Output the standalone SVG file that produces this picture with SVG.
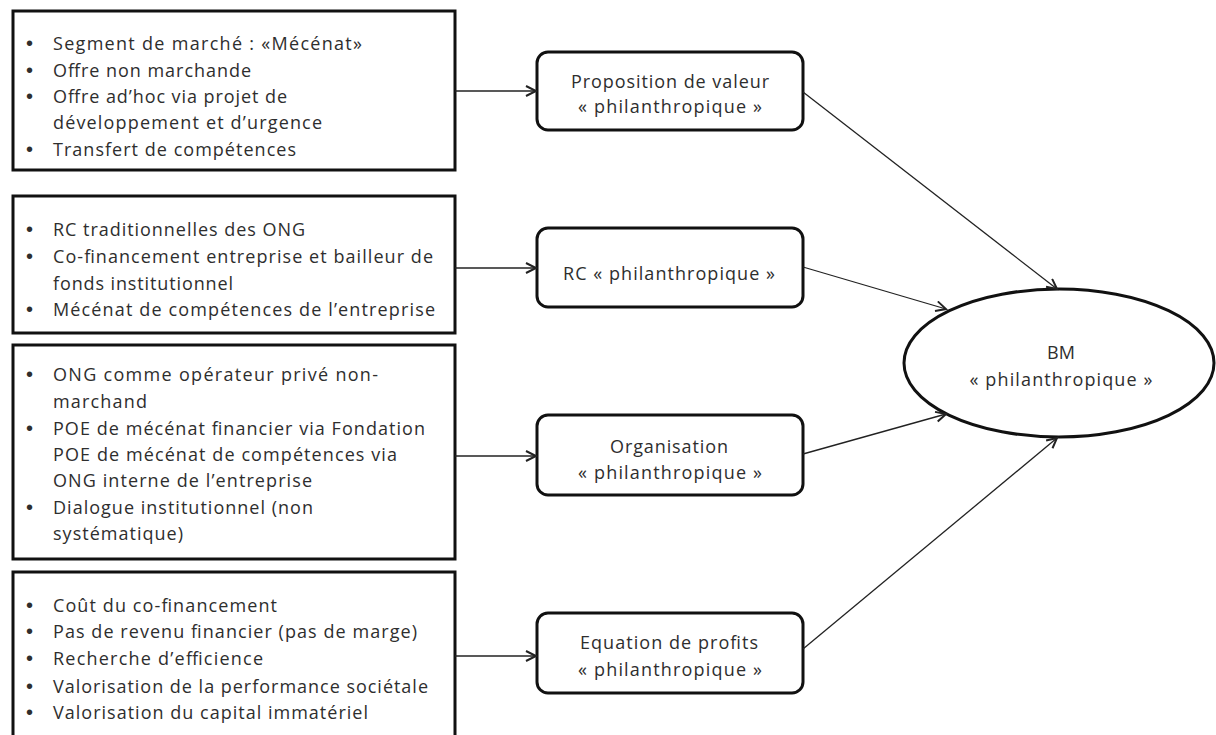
<svg xmlns="http://www.w3.org/2000/svg" width="1216" height="735" viewBox="0 0 1216 735">
<style>
  .box { fill: #ffffff; stroke: #111111; stroke-width: 3; }
  .t { font-family: "Open Sans", "Liberation Sans", sans-serif; font-size: 18px; fill: #2e2e2e; }
  .b { font-family: "Liberation Sans", sans-serif; font-size: 20px; fill: #2e2e2e; }
  .c { text-anchor: middle; }
  .edge { fill: none; stroke: #222222; stroke-width: 1.6; }
  .diag { fill: none; stroke: #222222; stroke-width: 1.3; }
</style>
<defs>
  <marker id="arr" markerUnits="userSpaceOnUse" markerWidth="14" markerHeight="14" refX="11" refY="6" orient="auto">
    <path d="M1,1 L11,6 L1,11" fill="none" stroke="#222222" stroke-width="2"/>
  </marker>
</defs>
<rect width="1216" height="735" fill="#ffffff"/>

<g id="box-valeur">
  <rect class="box" x="13" y="11" width="442" height="159"/>
  <g transform="translate(0,3)">
  <text class="b" x="26" y="47">•</text>
  <text class="t" x="53" y="47" textLength="309">Segment de marché : «Mécénat»</text>
  <text class="b" x="26" y="73.5">•</text>
  <text class="t" x="53" y="73.5" textLength="198">Offre non marchande</text>
  <text class="b" x="26" y="100">•</text>
  <text class="t" x="53" y="100" textLength="234">Offre ad’hoc via projet de</text>
  <text class="t" x="53" y="126" textLength="269">développement et d’urgence</text>
  <text class="b" x="26" y="152.5">•</text>
  <text class="t" x="53" y="152.5" textLength="243">Transfert de compétences</text>
  </g>
</g>

<g id="box-rc">
  <rect class="box" x="13" y="196" width="442" height="137"/>
  <g transform="translate(0,3)">
  <text class="b" x="26" y="233">•</text>
  <text class="t" x="53" y="233" textLength="252">RC traditionnelles des ONG</text>
  <text class="b" x="26" y="260">•</text>
  <text class="t" x="53" y="260" textLength="380">Co-financement entreprise et bailleur de</text>
  <text class="t" x="53" y="286.5" textLength="180">fonds institutionnel</text>
  <text class="b" x="26" y="313">•</text>
  <text class="t" x="53" y="313" textLength="382">Mécénat de compétences de l’entreprise</text>
  </g>
</g>

<g id="box-organisation">
  <rect class="box" x="13" y="345" width="442" height="214"/>
  <g transform="translate(0,3)">
  <text class="b" x="26" y="378">•</text>
  <text class="t" x="53" y="378" textLength="325">ONG comme opérateur privé non-</text>
  <text class="t" x="53" y="405" textLength="94">marchand</text>
  <text class="b" x="26" y="432">•</text>
  <text class="t" x="53" y="432" textLength="372">POE de mécénat financier via Fondation</text>
  <text class="t" x="53" y="458" textLength="344">POE de mécénat de compétences via</text>
  <text class="t" x="53" y="484" textLength="259">ONG interne de l’entreprise</text>
  <text class="b" x="26" y="511">•</text>
  <text class="t" x="53" y="511" textLength="260">Dialogue institutionnel (non</text>
  <text class="t" x="53" y="537" textLength="130">systématique)</text>
  </g>
</g>

<g id="box-profits">
  <rect class="box" x="13" y="572" width="442" height="175"/>
  <g transform="translate(0,3)">
  <text class="b" x="26" y="609">•</text>
  <text class="t" x="53" y="609" textLength="224">Coût du co-financement</text>
  <text class="b" x="26" y="635">•</text>
  <text class="t" x="53" y="635" textLength="364">Pas de revenu financier (pas de marge)</text>
  <text class="b" x="26" y="662">•</text>
  <text class="t" x="53" y="662" textLength="210">Recherche d’efficience</text>
  <text class="b" x="26" y="690">•</text>
  <text class="t" x="53" y="690" textLength="375">Valorisation de la performance sociétale</text>
  <text class="b" x="26" y="716">•</text>
  <text class="t" x="53" y="716" textLength="315">Valorisation du capital immatériel</text>
  </g>
</g>

<g id="node-proposition">
  <rect class="box" x="537" y="52" width="266" height="78" rx="11" ry="11"/>
  <text class="t c" x="670" y="88" textLength="198">Proposition de valeur</text>
  <text class="t c" x="670" y="113" textLength="184">« philanthropique »</text>
</g>

<g id="node-rc">
  <rect class="box" x="537" y="228" width="266" height="79" rx="11" ry="11"/>
  <text class="t c" x="669" y="280" textLength="212">RC « philanthropique »</text>
</g>

<g id="node-organisation">
  <rect class="box" x="537" y="415" width="266" height="80" rx="11" ry="11"/>
  <text class="t c" x="669" y="453" textLength="118">Organisation</text>
  <text class="t c" x="670" y="479" textLength="184">« philanthropique »</text>
</g>

<g id="node-equation">
  <rect class="box" x="537" y="613" width="266" height="80" rx="11" ry="11"/>
  <text class="t c" x="669" y="649" textLength="178">Equation de profits</text>
  <text class="t c" x="670" y="676" textLength="184">« philanthropique »</text>
</g>

<g id="node-bm">
  <ellipse class="box" cx="1059" cy="363" rx="155" ry="74"/>
  <text class="t c" x="1061" y="359" textLength="28">BM</text>
  <text class="t c" x="1061" y="386" textLength="183">« philanthropique »</text>
</g>

<g id="connectors">
  <line class="edge" x1="455" y1="91" x2="536" y2="91" marker-end="url(#arr)"/>
  <line class="edge" x1="455" y1="268" x2="536" y2="268" marker-end="url(#arr)"/>
  <line class="edge" x1="455" y1="456" x2="536" y2="456" marker-end="url(#arr)"/>
  <line class="edge" x1="455" y1="656" x2="536" y2="656" marker-end="url(#arr)"/>
  <line class="diag" x1="803" y1="92" x2="1057" y2="289" marker-end="url(#arr)"/>
  <line class="diag" x1="803" y1="267" x2="946" y2="309" marker-end="url(#arr)"/>
  <line class="diag" x1="803" y1="454" x2="946" y2="414" marker-end="url(#arr)"/>
  <line class="diag" x1="803" y1="649" x2="1057" y2="438" marker-end="url(#arr)"/>
</g>
</svg>
